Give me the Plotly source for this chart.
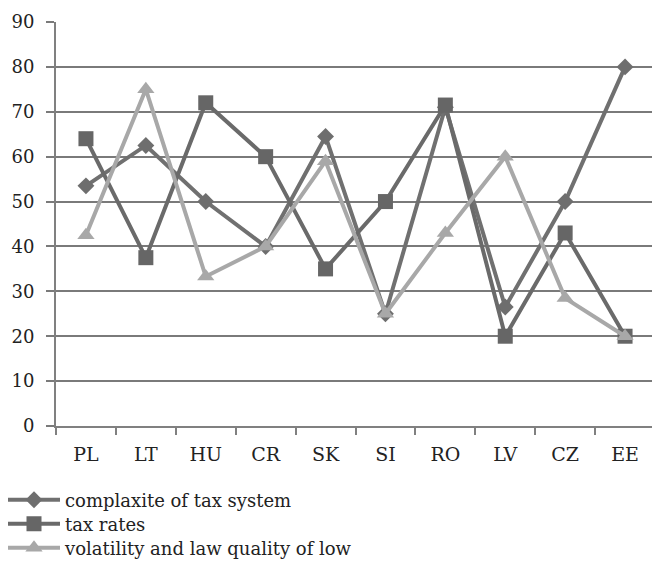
import plotly.graph_objects as go

countries = ["PL", "LT", "HU", "CR", "SK", "SI", "RO", "LV", "CZ", "EE"]
complexity = [53.5, 62.5, 50, 40, 64.5, 25, 71, 26.5, 50, 80]
tax_rates = [64, 37.5, 72, 60, 35, 50, 71.5, 20, 43, 20]
volatility = [42.5, 75, 33.3, 40, 59, 25, 43, 60, 28.5, 20]

FONT = "DejaVu Serif"
W, H = 652, 561

fig = go.Figure()
fig.add_trace(go.Scatter(
    x=countries, y=complexity, name="complaxite of tax system",
    mode="lines+markers", legend="legend",
    line=dict(color="#707070", width=4),
    marker=dict(symbol="diamond", size=13, color="#6e6e6e"),
))
fig.add_trace(go.Scatter(
    x=countries, y=tax_rates, name="tax rates",
    mode="lines+markers", legend="legend2",
    line=dict(color="#6a6a6a", width=4),
    marker=dict(symbol="square", size=15, color="#666666"),
))
fig.add_trace(go.Scatter(
    x=countries, y=volatility, name="volatility and law quality of low",
    mode="lines+markers", legend="legend3",
    line=dict(color="#a8a8a8", width=4),
    marker=dict(symbol="triangle-up", size=15, color="#a8a8a8"),
))


def legend_box(row_center_px):
    # one legend per row so that rows can be spaced tightly
    return dict(
        xref="container", yref="container",
        x=3 / W, y=1 - row_center_px / H, xanchor="left", yanchor="middle",
        font=dict(family=FONT, size=18, color="#222222"),
        itemwidth=52, borderwidth=0,
        bgcolor="rgba(0,0,0,0)",
    )


fig.update_layout(
    width=W, height=H,
    margin=dict(l=56, r=0, t=22, b=135, autoexpand=False),
    paper_bgcolor="white", plot_bgcolor="white",
    font=dict(family=FONT, size=18, color="#222222"),
    showlegend=True,
    legend=legend_box(500),
    legend2=legend_box(524),
    legend3=legend_box(548),
)
fig.update_xaxes(
    type="category", range=[-0.5, 9.45],
    showgrid=False, showline=True, linecolor="#808080", linewidth=2,
    ticks="outside", tickson="boundaries", ticklen=7, tickcolor="#808080", tickwidth=2,
    tickfont=dict(family=FONT, size=19, color="#222222"),
    tickangle=0, ticklabelstandoff=10,
)
fig.update_yaxes(
    range=[0, 90], dtick=10,
    showgrid=True, gridcolor="#7a7a7a", gridwidth=1.5,
    showline=True, linecolor="#808080", linewidth=2,
    ticks="outside", ticklen=8, tickcolor="#7a7a7a", tickwidth=1.5,
    tickfont=dict(family=FONT, size=18, color="#222222"),
    ticklabelstandoff=8,
    zeroline=False,
)

fig.write_html("out.html")
